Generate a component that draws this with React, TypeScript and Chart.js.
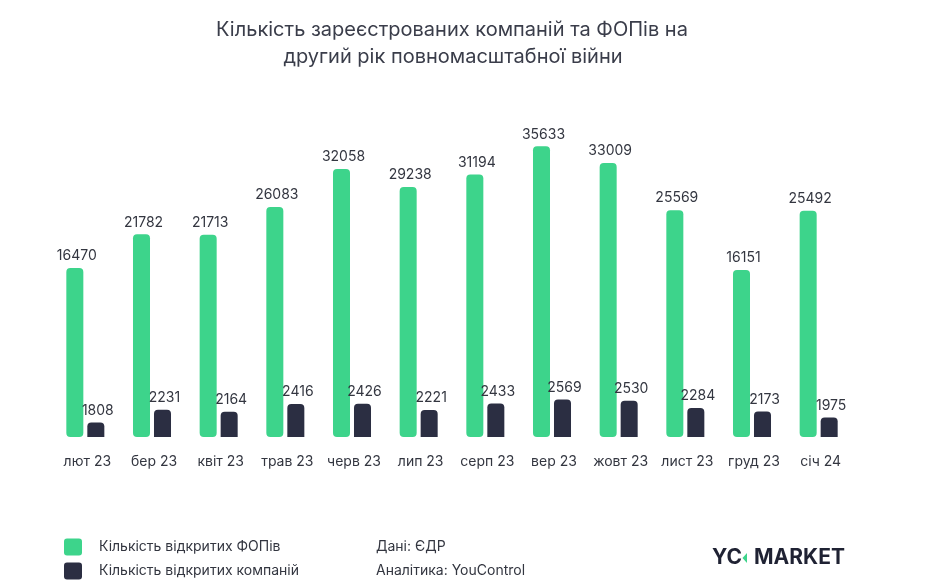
import { useEffect, useRef } from 'react';
import { Chart, registerables, type Plugin } from 'chart.js';

Chart.register(...registerables);

// Chart data.
const MONTHS = ['лют 23', 'бер 23', 'квіт 23', 'трав 23', 'черв 23', 'лип 23', 'серп 23', 'вер 23', 'жовт 23', 'лист 23', 'груд 23', 'січ 24'];
const FOP_COUNTS = [16470, 21782, 21713, 26083, 32058, 29238, 31194, 35633, 33009, 25569, 16151, 25492];
const COMPANY_COUNTS = [1808, 2231, 2164, 2416, 2426, 2221, 2433, 2569, 2530, 2284, 2173, 1975];
const SERIES_LABELS = ['Кількість відкритих ФОПів', 'Кількість відкритих компаній'];
const TITLE_LINES = ['Кількість зареєстрованих компаній та ФОПів на', 'другий рік повномасштабної війни'];
const SOURCE_LINES = ['Дані: ЄДР', 'Аналітика: YouControl'];

// The original bars are not drawn from zero — each series sits on its own
// hidden axis with an offset minimum so the heights look like the picture.
const FOP_AXIS = { min: -10120, max: 42930 };
const COMPANY_AXIS = { min: 1325, max: 12495 };

const GREEN = '#3dd48b';
const NAVY = '#2b2e42';
const TEXT = '#333640';
const FONT = 'Inter, "Noto Sans", sans-serif';

const W = 944;
const H = 588;

// Value above each bar + month label under each category.
const labelsPlugin: Plugin = {
  id: 'barLabels',
  afterDatasetsDraw(chart) {
    const { ctx } = chart;
    ctx.save();
    ctx.font = `14px ${FONT}`;
    ctx.fillStyle = TEXT;
    ctx.textAlign = 'center';
    ctx.textBaseline = 'middle';
    chart.data.datasets.forEach((ds, i) => {
      const meta = chart.getDatasetMeta(i);
      meta.data.forEach((bar, j) => {
        ctx.fillText(String(ds.data[j]), bar.x + 2, bar.y - 12);
      });
    });
    const xScale = chart.scales.x;
    MONTHS.forEach((m, j) => {
      ctx.fillText(m, xScale.getPixelForValue(j) + 2, chart.chartArea.bottom + 25);
    });
    ctx.restore();
  },
};

// Title, legend, source notes and logo.
const decorPlugin: Plugin = {
  id: 'decor',
  afterDraw(chart) {
    const { ctx } = chart;
    ctx.save();
    ctx.textBaseline = 'middle';

    ctx.font = `20px ${FONT}`;
    ctx.fillStyle = '#3a3d4a';
    ctx.textAlign = 'center';
    ctx.fillText(TITLE_LINES[0], 452, 30);
    ctx.fillText(TITLE_LINES[1], 453, 57);

    ctx.textAlign = 'left';
    ctx.font = `14px ${FONT}`;
    const colors = [GREEN, NAVY];
    SERIES_LABELS.forEach((label, i) => {
      const y = 547 + i * 24;
      ctx.fillStyle = colors[i];
      ctx.beginPath();
      ctx.roundRect(64, y - 8.5, 18, 17, 3);
      ctx.fill();
      ctx.fillStyle = TEXT;
      ctx.fillText(label, 99, y);
    });

    SOURCE_LINES.forEach((line, i) => {
      ctx.fillText(line, 376, 547 + i * 24);
    });

    // logo
    ctx.font = `bold 21px ${FONT}`;
    ctx.fillStyle = '#1f2233';
    ctx.fillText('YC', 712, 558);
    ctx.fillText('MARKET', 754, 558);
    ctx.fillStyle = GREEN;
    ctx.beginPath();
    ctx.moveTo(747, 553);
    ctx.lineTo(742.5, 558);
    ctx.lineTo(747, 563);
    ctx.closePath();
    ctx.fill();

    ctx.restore();
  },
};

export default function App() {
  const canvasRef = useRef<HTMLCanvasElement | null>(null);

  useEffect(() => {
    document.body.style.margin = '0';
    const canvas = canvasRef.current;
    if (!canvas) return undefined;
    const chart = new Chart(canvas, {
      type: 'bar',
      data: {
        labels: MONTHS,
        datasets: [
          {
            label: SERIES_LABELS[0],
            data: FOP_COUNTS,
            backgroundColor: GREEN,
            yAxisID: 'y',
            base: FOP_AXIS.min,
            borderRadius: 4,
            borderSkipped: false,
          },
          {
            label: SERIES_LABELS[1],
            data: COMPANY_COUNTS,
            backgroundColor: NAVY,
            yAxisID: 'y1',
            borderRadius: 4,
            borderSkipped: false,
          },
        ],
      },
      options: {
        responsive: false,
        animation: false,
        layout: { padding: { left: 52, right: 92, top: 100, bottom: 151 } },
        datasets: { bar: { categoryPercentage: 0.63, barPercentage: 0.81 } },
        plugins: {
          legend: { display: false },
          tooltip: { enabled: false },
        },
        scales: {
          x: { display: false },
          y: { display: false, min: FOP_AXIS.min, max: FOP_AXIS.max },
          y1: { display: false, min: COMPANY_AXIS.min, max: COMPANY_AXIS.max },
        },
      },
      plugins: [labelsPlugin, decorPlugin],
    });
    return () => chart.destroy();
  }, []);

  return (
    <div style={{ width: W, height: H, background: '#fff' }}>
      <canvas ref={canvasRef} width={W} height={H} />
    </div>
  );
}
